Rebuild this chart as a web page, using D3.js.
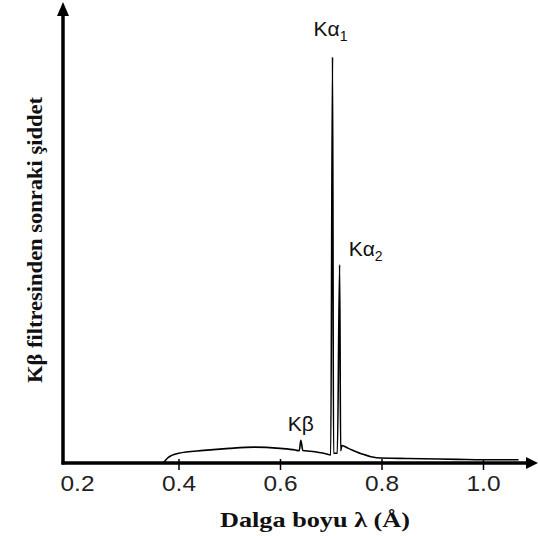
<!DOCTYPE html>
<html>
<head>
<meta charset="utf-8">
<script src="https://cdn.jsdelivr.net/npm/d3@7"></script>
<style>
    body { margin: 0; background: #fff; }
    svg { display: block; }
</style>
</head>
<body>
<script>

// wavelength (Å) and intensity after the Kβ filter (arbitrary units, Kα1 = 100)
var lambda = [0.370, 0.380, 0.400, 0.450, 0.500, 0.550, 0.600, 0.630, 0.638, 0.641, 0.645,
              0.660, 0.690, 0.700, 0.7035, 0.7055, 0.713, 0.7175, 0.7195, 0.722, 0.735,
              0.760, 0.790, 0.850, 0.950, 1.000, 1.070];
var intensity = [0.0, 1.4, 2.4, 3.1, 3.6, 3.9, 3.6, 3.2, 3.0, 5.6, 3.1,
                 2.9, 2.3, 2.0, 100, 2.4, 2.4, 48.8, 3.0, 4.3, 3.6,
                 2.3, 1.3, 1.1, 0.9, 0.8, 0.8];

var tickValues = [0.2, 0.4, 0.6, 0.8, 1.0];

var peakNames = ["Kα1", "Kα2", "Kβ"];
var peakLambda = [0.7035, 0.7175, 0.641];
var peakHeight = [100, 48.8, 5.6];

var width = 538, height = 536;

var x = d3.scaleLinear().domain([0.2, 1.0]).range([77, 483]);
var y = d3.scaleLinear().domain([0, 100]).range([463, 57]);

var axisX = 63;      // position of the vertical axis
var axisY = y(0);

var svg = d3.select("body")
    .append("svg")
        .attr("width", width)
        .attr("height", height);

// ---- axes ----
svg.append("line")
    .attr("x1", axisX).attr("y1", axisY + 1.5)
    .attr("x2", axisX).attr("y2", 12)
    .attr("stroke", "#000")
    .attr("stroke-width", 3.5);

svg.append("path")
    .attr("d", "M" + (axisX - 6) + ",16 L" + axisX + ",2 L" + (axisX + 6) + ",16 Z")
    .attr("fill", "#000");

svg.append("line")
    .attr("x1", axisX - 1.5).attr("y1", axisY)
    .attr("x2", 528).attr("y2", axisY)
    .attr("stroke", "#000")
    .attr("stroke-width", 3.5);

svg.append("path")
    .attr("d", "M526," + (axisY - 6) + " L538," + axisY + " L526," + (axisY + 6) + " Z")
    .attr("fill", "#000");

var xAxis = d3.axisBottom(x)
    .tickValues(tickValues)
    .tickSize(7)
    .tickFormat(d3.format(".1f"));

var gx = svg.append("g")
    .attr("transform", "translate(0," + axisY + ")")
    .call(xAxis);

gx.select(".domain").remove();
gx.selectAll(".tick line")
    .attr("y1", -4)
    .attr("stroke-width", 1.5)
    .attr("opacity", function (d) { return d === 0.2 ? 0 : 1; });
gx.selectAll(".tick text")
    .attr("y", 28)
    .attr("dy", 0)
    .attr("x", -17)
    .attr("text-anchor", "start")
    .attr("textLength", 34)
    .attr("lengthAdjust", "spacingAndGlyphs")
    .style("font-family", "'Liberation Sans', Arial, sans-serif")
    .style("font-size", "22px")
    .style("fill", "#222");

// ---- spectrum ----
var pts = lambda.map(function (l, i) { return [l, intensity[i]]; });

var line = d3.line()
    .curve(d3.curveMonotoneX)
    .x(function (d) { return x(d[0]); })
    .y(function (d) { return y(d[1]); });

svg.append("path")
    .datum(pts)
    .attr("d", line)
    .attr("fill", "none")
    .attr("stroke", "#000")
    .attr("stroke-width", 1.6)
    .attr("stroke-linejoin", "miter");

// ---- peak labels ----
var labelDx = [-2, 26, 0];
var labelDy = [-21, -9, -9];

peakNames.forEach(function (name, i) {
    var t = svg.append("text")
        .attr("x", x(peakLambda[i]) + labelDx[i])
        .attr("y", y(peakHeight[i]) + labelDy[i])
        .attr("text-anchor", "middle")
        .style("font-family", "'Liberation Sans', Arial, sans-serif")
        .style("font-size", "21px")
        .style("fill", "#111");
    t.append("tspan").text(name.slice(0, 2));
    if (name.length > 2) {
        t.append("tspan")
            .attr("dy", 5)
            .style("font-size", "14px")
            .text(name.slice(2));
    }
});

// ---- axis titles ----
svg.append("text")
    .attr("x", 220)
    .attr("y", 527)
    .attr("textLength", 190)
    .attr("lengthAdjust", "spacingAndGlyphs")
    .style("font-family", "'Liberation Serif', 'Times New Roman', serif")
    .style("font-weight", "bold")
    .style("font-size", "21px")
    .style("fill", "#111")
    .text("Dalga boyu λ (Å)");

svg.append("text")
    .attr("transform", "translate(42,383) rotate(-90)")
    .attr("textLength", 286)
    .attr("lengthAdjust", "spacingAndGlyphs")
    .style("font-family", "'Liberation Serif', 'Times New Roman', serif")
    .style("font-weight", "bold")
    .style("font-size", "21px")
    .style("fill", "#111")
    .text("Kβ filtresinden sonraki şiddet");

</script>
</body>
</html>
